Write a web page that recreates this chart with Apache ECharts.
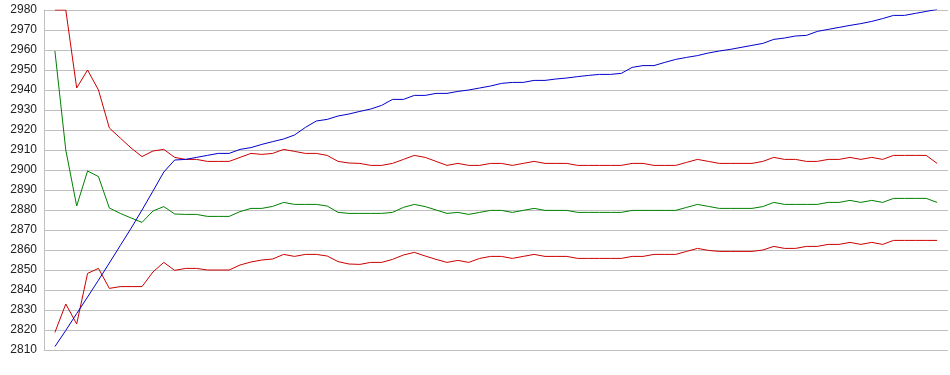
<!DOCTYPE html>
<html>
<head>
<meta charset="utf-8">
<script src="https://cdn.jsdelivr.net/npm/echarts@6/dist/echarts.min.js"></script>
<style>
html,body{margin:0;padding:0;background:#fff;}
#chart{width:950px;height:375px;}
</style>
</head>
<body>
<div id="chart"></div>
<script>
// y-axis tick settings
var yMin = 2810, yMax = 2980, yStep = 10;

// series values (one per sample, left to right)
var upperBand = [2980,2980,2941,2950,2940,2921,2916,2911,2906.7,2909.5,2910.3,2906.3,2905.3,2905.3,2904.3,2904.3,2904.3,2906.3,2908.3,2907.8,2908.3,2910.3,2909.3,2908.3,2908.3,2907.3,2904.3,2903.5,2903.3,2902.3,2902.3,2903.3,2905.3,2907.3,2906.3,2904.3,2902.3,2903.3,2902.3,2902.3,2903.3,2903.3,2902.3,2903.3,2904.3,2903.3,2903.3,2903.3,2902.3,2902.3,2902.3,2902.3,2902.3,2903.3,2903.3,2902.3,2902.3,2902.3,2903.8,2905.3,2904.3,2903.3,2903.3,2903.3,2903.3,2904.3,2906.3,2905.3,2905.3,2904.3,2904.3,2905.3,2905.3,2906.3,2905.3,2906.3,2905.3,2907.3,2907.3,2907.3,2907.3,2903.3];

var middleLine = [2959.5,2910,2882,2899.5,2896.7,2881,2878.3,2876,2873.8,2879.5,2881.7,2878,2877.8,2877.8,2876.8,2876.8,2876.8,2879.2,2880.8,2880.8,2881.8,2883.8,2882.8,2882.8,2882.8,2882,2878.8,2878.3,2878.3,2878.3,2878.3,2878.8,2881.3,2882.8,2881.7,2880,2878.3,2878.8,2877.8,2878.8,2879.8,2879.8,2878.8,2879.8,2880.8,2879.8,2879.8,2879.8,2878.8,2878.8,2878.8,2878.8,2878.8,2879.8,2879.8,2879.8,2879.8,2879.8,2881.3,2882.8,2881.8,2880.8,2880.8,2880.8,2880.8,2881.7,2883.8,2882.8,2882.8,2882.8,2882.8,2883.8,2883.8,2884.8,2883.8,2884.8,2883.8,2885.8,2885.8,2885.8,2885.8,2883.8];

var lowerBand = [2818.8,2833,2823,2848.3,2850.8,2840.8,2841.7,2841.7,2841.7,2849,2853.8,2849.8,2850.8,2850.8,2850,2850,2850,2852.5,2854,2855,2855.5,2857.8,2856.8,2857.8,2857.8,2857,2854.2,2853,2852.8,2853.8,2853.8,2855.3,2857.5,2858.8,2857,2855.3,2853.8,2854.8,2853.8,2855.8,2856.8,2856.8,2855.8,2856.8,2857.8,2856.8,2856.8,2856.8,2855.8,2855.8,2855.8,2855.8,2855.8,2856.8,2856.8,2857.8,2857.8,2857.8,2859.3,2860.8,2859.8,2859.3,2859.3,2859.3,2859.3,2860,2861.8,2860.8,2860.8,2861.8,2861.8,2862.8,2862.8,2863.8,2862.8,2863.8,2862.8,2864.8,2864.8,2864.8,2864.8,2864.8];

var trendLine = [2811.7,2819.8,2828.2,2836.5,2844.9,2853.5,2862.2,2870.9,2880,2889.4,2899,2905,2905.3,2906.3,2907.3,2908.3,2908.3,2910.3,2911.2,2912.8,2914.2,2915.5,2917.5,2921.3,2924.5,2925.3,2927,2928,2929.3,2930.5,2932.3,2935.3,2935.3,2937.3,2937.3,2938.3,2938.3,2939.3,2940,2941,2942,2943.3,2943.8,2943.8,2944.8,2944.8,2945.5,2946,2946.7,2947.3,2947.8,2947.8,2948.3,2951.3,2952.2,2952.2,2953.8,2955.3,2956.3,2957.2,2958.5,2959.5,2960.3,2961.3,2962.3,2963.3,2965.3,2966,2967,2967.3,2969.3,2970.3,2971.3,2972.3,2973.2,2974.3,2975.7,2977.3,2977.3,2978.3,2979.3,2980.3];

function pairs(arr){ return arr.map(function(v,i){ return [i+1, v]; }); }

var chart = echarts.init(document.getElementById('chart'), null, {renderer:'canvas'});
function line(name, data, color){
  return {name:name, type:'line', data:pairs(data), symbol:'none', showSymbol:false,
    lineStyle:{color:color, width:1}, itemStyle:{color:color}, silent:true};
}
chart.setOption({
  animation:false,
  backgroundColor:'#ffffff',
  grid:{left:44, right:2, top:10, bottom:25, containLabel:false},
  xAxis:{type:'value', min:0, max:83, axisLine:{show:false}, axisTick:{show:false},
    axisLabel:{show:false}, splitLine:{show:false}},
  yAxis:{type:'value', min:yMin, max:yMax, interval:yStep,
    axisLine:{show:true, lineStyle:{color:'#c0c0c0', width:1}},
    axisTick:{show:false},
    axisLabel:{color:'#222', fontFamily:'Liberation Sans, Arial, sans-serif', fontSize:12, margin:7,
      formatter:function(v){ return String(v); }},
    splitLine:{show:true, lineStyle:{color:'#c0c0c0', width:1}}},
  series:[
    line('upper', upperBand, '#cc0000'),
    line('middle', middleLine, '#008000'),
    line('lower', lowerBand, '#cc0000'),
    line('trend', trendLine, '#0000cc')
  ]
});
</script>
</body>
</html>
